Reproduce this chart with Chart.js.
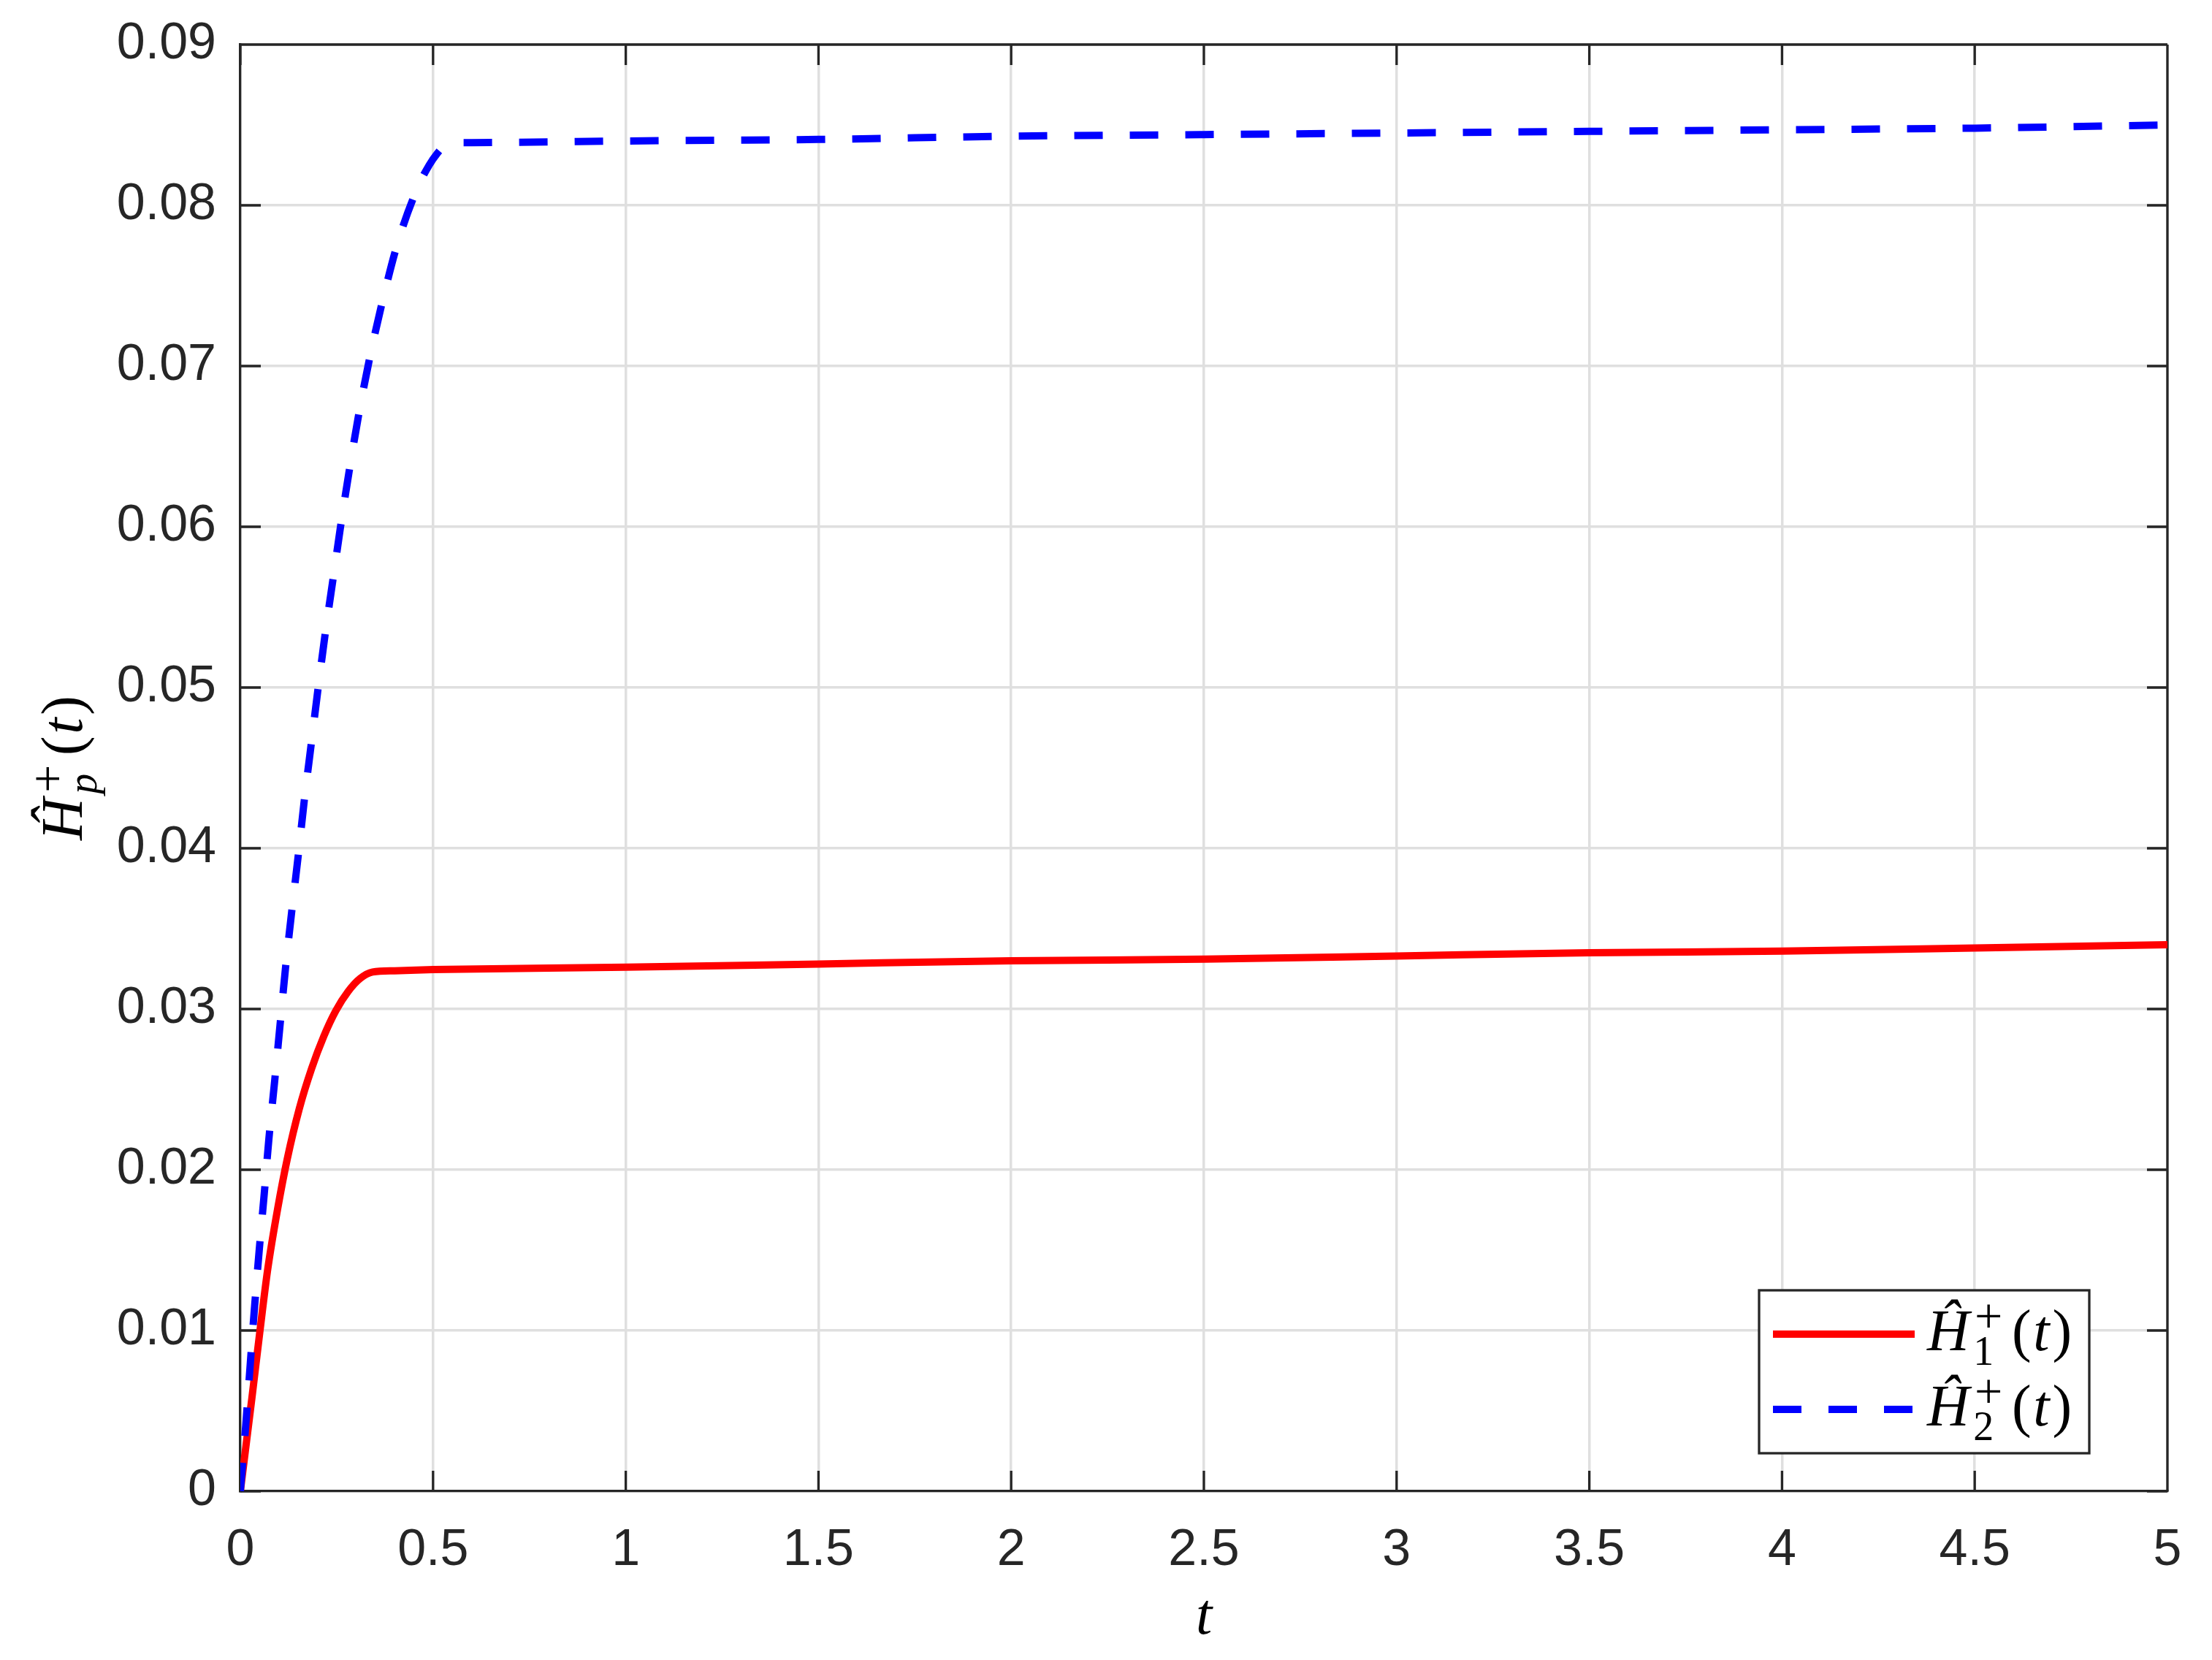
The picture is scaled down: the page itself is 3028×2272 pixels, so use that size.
<!DOCTYPE html>
<html>
<head>
<meta charset="utf-8">
<script src="https://cdn.jsdelivr.net/npm/chart.js"></script>
<style>
  html, body { margin: 0; padding: 0; background: #fff; }
</style>
</head>
<body>
<canvas id="hpChart" width="3028" height="2272"></canvas>

<script>
  // values
  const tRed = [0, 0.03, 0.05, 0.071, 0.097, 0.122, 0.153, 0.185, 0.2165, 0.248, 0.28, 0.311, 0.343, 0.4, 0.5, 1, 1.5, 2, 2.5, 3, 3.5, 4, 4.5, 5];
  const hRed = [0, 0.0058, 0.0098, 0.0138, 0.0176, 0.0207, 0.0238, 0.0263, 0.0283, 0.0299, 0.0311, 0.0319, 0.0323, 0.03238, 0.03245, 0.0326, 0.0328, 0.0330, 0.0331, 0.0333, 0.0335, 0.0336, 0.0338, 0.0340];

  const tBlue = [0, 0.015, 0.026, 0.037, 0.049, 0.062, 0.074, 0.089, 0.103, 0.117, 0.133, 0.150, 0.166, 0.184, 0.202, 0.221, 0.242, 0.263, 0.286, 0.311, 0.340, 0.3725, 0.410, 0.460, 0.490, 0.510, 0.530, 0.555, 0.6, 1, 1.5, 2, 2.5, 3, 3.5, 4, 4.5, 5];
  const hBlue = [0, 0.0044, 0.0080, 0.0115, 0.0150, 0.0185, 0.0219, 0.0255, 0.0290, 0.0325, 0.0360, 0.0395, 0.0430, 0.0465, 0.0500, 0.0535, 0.0570, 0.0605, 0.0640, 0.0675, 0.0710, 0.0744, 0.0778, 0.0811, 0.0825, 0.0832, 0.0837, 0.0839, 0.0839, 0.0840, 0.0841, 0.0843, 0.0844, 0.0845, 0.0846, 0.0847, 0.0848, 0.0850];

  const seriesSubs = ["1", "2"];
  const xTicks = [0, 0.5, 1, 1.5, 2, 2.5, 3, 3.5, 4, 4.5, 5];
  const xTickLabels = ["0", "0.5", "1", "1.5", "2", "2.5", "3", "3.5", "4", "4.5", "5"];
  const yTicks = [0, 0.01, 0.02, 0.03, 0.04, 0.05, 0.06, 0.07, 0.08, 0.09];
  const yTickLabels = ["0", "0.01", "0.02", "0.03", "0.04", "0.05", "0.06", "0.07", "0.08", "0.09"];

  const AXIS = "#262626";
  const SERIF = '"Liberation Serif", "DejaVu Serif", serif';

  // H-hat with stacked sup "+" and a subscript, then (t)
  function drawMath(ctx, x, y, sub, size, measureOnly) {
    const supSize = size * 0.85;
    const subSize = size * 0.7;
    ctx.textAlign = "left";
    ctx.textBaseline = "alphabetic";
    ctx.font = `italic ${size}px ${SERIF}`;
    const wH = ctx.measureText("Ĥ").width;
    if (!measureOnly) ctx.fillText("Ĥ", x, y);
    const sx = x + wH + size * 0.07;
    ctx.font = `${supSize}px ${SERIF}`;
    const wSup = ctx.measureText("+").width;
    if (!measureOnly) ctx.fillText("+", sx + size * 0.02, y - size * 0.3);
    ctx.font = (sub === "p" ? "italic " : "") + `${subSize}px ${SERIF}`;
    const wSub = ctx.measureText(sub).width;
    if (!measureOnly) ctx.fillText(sub, sx, y + size * 0.25);
    let px = sx + Math.max(wSup, wSub) + size * 0.18;
    ctx.font = `${size}px ${SERIF}`;
    const wL = ctx.measureText("(").width;
    if (!measureOnly) ctx.fillText("(", px, y);
    px += wL;
    ctx.font = `italic ${size}px ${SERIF}`;
    const wT = ctx.measureText("t").width;
    if (!measureOnly) ctx.fillText("t", px + size * 0.03, y);
    px += wT + size * 0.08;
    ctx.font = `${size}px ${SERIF}`;
    if (!measureOnly) ctx.fillText(")", px, y);
    px += ctx.measureText(")").width;
    return px - x;
  }

  // box, inward ticks, y title and legend
  const decorPlugin = {
    id: "decor",
    beforeDatasetsDraw(chart) {
      const { ctx, chartArea: a, scales } = chart;
      ctx.save();
      ctx.strokeStyle = AXIS;
      ctx.lineWidth = 3.3;
      ctx.beginPath();
      ctx.moveTo(a.left, a.top); ctx.lineTo(a.right, a.top);
      ctx.moveTo(a.right, a.top); ctx.lineTo(a.right, a.bottom);
      const tl = 28;
      xTicks.forEach((v) => {
        const px = scales.x.getPixelForValue(v);
        ctx.moveTo(px, a.bottom); ctx.lineTo(px, a.bottom - tl);
        ctx.moveTo(px, a.top); ctx.lineTo(px, a.top + tl);
      });
      yTicks.forEach((v) => {
        const py = scales.y.getPixelForValue(v);
        ctx.moveTo(a.left, py); ctx.lineTo(a.left + tl, py);
        ctx.moveTo(a.right, py); ctx.lineTo(a.right - tl, py);
      });
      ctx.stroke();
      ctx.restore();
    },
    afterDraw(chart) {
      const { ctx, chartArea: a } = chart;
      const size = 80;
      ctx.save();
      ctx.fillStyle = "#000";

      // y axis title, rotated
      const w = drawMath(ctx, 0, 0, "p", size, true);
      ctx.translate(112, (a.top + a.bottom) / 2 + w / 2);
      ctx.rotate(-Math.PI / 2);
      drawMath(ctx, 0, 0, "p", size, false);
      ctx.restore();

      // legend
      ctx.save();
      const bw = 452, bh = 223;
      const bx = a.right - 107 - bw;
      const by = a.bottom - 52 - bh;
      ctx.fillStyle = "#fff";
      ctx.fillRect(bx, by, bw, bh);
      ctx.strokeStyle = AXIS;
      ctx.lineWidth = 3.3;
      ctx.strokeRect(bx, by, bw, bh);
      chart.data.datasets.forEach((ds, i) => {
        const ly = by + 60 + i * 103;
        ctx.strokeStyle = ds.borderColor;
        ctx.lineWidth = ds.borderWidth;
        ctx.lineCap = "butt";
        ctx.setLineDash(ds.borderDash || []);
        ctx.beginPath();
        ctx.moveTo(bx + 19, ly);
        ctx.lineTo(bx + 213, ly);
        ctx.stroke();
        ctx.setLineDash([]);
        ctx.fillStyle = "#000";
        drawMath(ctx, bx + 230, ly + 22, seriesSubs[i], size, false);
      });
      ctx.restore();
    },
  };

  new Chart(document.getElementById("hpChart"), {
    type: "line",
    data: {
      datasets: [
        {
          label: "H1",
          data: tRed.map((t, i) => ({ x: t, y: hRed[i] })),
          borderColor: "#ff0000",
          borderWidth: 10,
          pointRadius: 0,
          cubicInterpolationMode: "monotone",
          fill: false,
          order: 1,
        },
        {
          label: "H2",
          data: tBlue.map((t, i) => ({ x: t, y: hBlue[i] })),
          borderColor: "#0000ff",
          borderWidth: 10,
          borderDash: [39, 37],
          borderCapStyle: "butt",
          pointRadius: 0,
          cubicInterpolationMode: "monotone",
          fill: false,
          order: 0,
        },
      ],
    },
    options: {
      responsive: false,
      animation: false,
      devicePixelRatio: 1,
      layout: { padding: { top: 61, right: 61, left: 0, bottom: 0 } },
      plugins: { legend: { display: false }, tooltip: { enabled: false } },
      scales: {
        x: {
          type: "linear",
          min: 0,
          max: 5,
          afterBuildTicks: (s) => { s.ticks = xTicks.map((v) => ({ value: v })); },
          afterFit: (s) => { s.height = 231; s.paddingLeft = 0; s.paddingRight = 0; },
          ticks: {
            callback: (v, i) => xTickLabels[i],
            color: AXIS,
            font: { family: '"Liberation Sans", Arial, sans-serif', size: 70 },
            padding: 40,
            maxRotation: 0,
          },
          grid: { color: "#dfdfdf", lineWidth: 3.5, drawTicks: false },
          border: { color: AXIS, width: 3.3 },
          title: {
            display: true,
            text: "t",
            color: "#000",
            font: { family: SERIF, style: "italic", size: 80 },
            padding: { top: 0, bottom: 9 },
          },
        },
        y: {
          type: "linear",
          min: 0,
          max: 0.09,
          afterBuildTicks: (s) => { s.ticks = yTicks.map((v) => ({ value: v })); },
          afterFit: (s) => { s.width = 329; s.paddingTop = 0; s.paddingBottom = 0; },
          ticks: {
            callback: (v, i) => yTickLabels[i],
            color: AXIS,
            font: { family: '"Liberation Sans", Arial, sans-serif', size: 70 },
            padding: 33,
          },
          grid: { color: "#dfdfdf", lineWidth: 3.5, drawTicks: false },
          border: { color: AXIS, width: 3.3 },
        },
      },
    },
    plugins: [decorPlugin],
  });
</script>
</body>
</html>
